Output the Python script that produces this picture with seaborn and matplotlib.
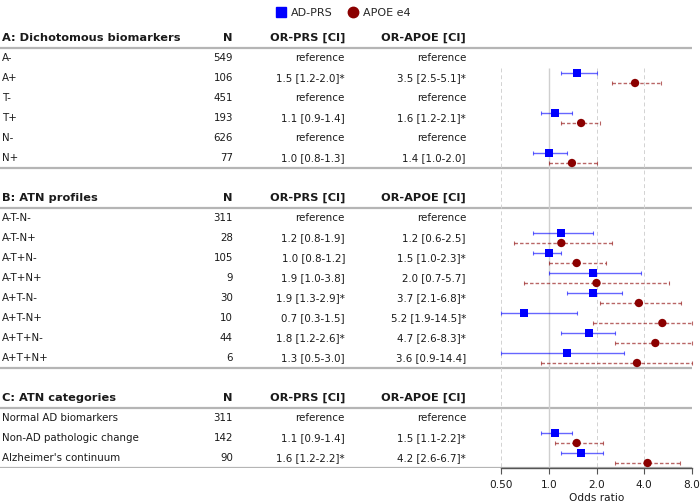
import numpy as np
import pandas as pd
import matplotlib
matplotlib.use('Agg')
import matplotlib.pyplot as plt
import seaborn as sns
from matplotlib.lines import Line2D

# --- data ---
section_titles = ['A: Dichotomous biomarkers', 'B: ATN profiles', 'C: ATN categories']
row_section = [0, 0, 0, 0, 0, 0,
               1, 1, 1, 1, 1, 1, 1, 1,
               2, 2, 2]
row_labels = ['A-', 'A+', 'T-', 'T+', 'N-', 'N+',
              'A-T-N-', 'A-T-N+', 'A-T+N-', 'A-T+N+', 'A+T-N-', 'A+T-N+', 'A+T+N-', 'A+T+N+',
              'Normal AD biomarkers', 'Non-AD pathologic change', "Alzheimer's continuum"]
row_n = [549, 106, 451, 193, 626, 77,
         311, 28, 105, 9, 30, 10, 44, 6,
         311, 142, 90]

# OR for the polygenic risk score (None = reference group)
prs_or = [None, 1.5, None, 1.1, None, 1.0,
          None, 1.2, 1.0, 1.9, 1.9, 0.7, 1.8, 1.3,
          None, 1.1, 1.6]
prs_lo = [None, 1.2, None, 0.9, None, 0.8,
          None, 0.8, 0.8, 1.0, 1.3, 0.3, 1.2, 0.5,
          None, 0.9, 1.2]
prs_hi = [None, 2.0, None, 1.4, None, 1.3,
          None, 1.9, 1.2, 3.8, 2.9, 1.5, 2.6, 3.0,
          None, 1.4, 2.2]
prs_sig = [False, True, False, False, False, False,
           False, False, False, False, True, False, True, False,
           False, False, True]

# OR for APOE e4
apoe_or = [None, 3.5, None, 1.6, None, 1.4,
           None, 1.2, 1.5, 2.0, 3.7, 5.2, 4.7, 3.6,
           None, 1.5, 4.2]
apoe_lo = [None, 2.5, None, 1.2, None, 1.0,
           None, 0.6, 1.0, 0.7, 2.1, 1.9, 2.6, 0.9,
           None, 1.1, 2.6]
apoe_hi = [None, 5.1, None, 2.1, None, 2.0,
           None, 2.5, 2.3, 5.7, 6.8, 14.5, 8.3, 14.4,
           None, 2.2, 6.7]
apoe_sig = [False, True, False, True, False, False,
            False, False, True, False, True, True, True, False,
            False, True, True]

x_ticks = [0.5, 1, 2, 4, 8]
x_ticklabels = ['0.50', '1.0', '2.0', '4.0', '8.0']

BLUE = '#0000ff'
RED = '#8b0000'
TXT = '#1a1a1a'
LINE = '#b5b5b5'
FS = 7.4
FS_HEAD = 8.2


def fmt(o, lo, hi, sig):
    if o is None:
        return 'reference'
    s = f'{o:.1f} [{lo:.1f}-{hi:.1f}]'
    return s + '*' if sig else s


# --- vertical layout in row units ---
row_y = []
header_y = []
lines_y = []
y = 1.9
for s in range(len(section_titles)):
    header_y.append(y)
    idx = [i for i in range(len(row_labels)) if row_section[i] == s]
    for k, i in enumerate(idx):
        row_y.append(y + 1 + k)
    lines_y.append(y + 0.5)
    lines_y.append(y + len(idx) + 0.5)
    y = y + len(idx) + 2
y_bottom = lines_y[-1]

sns.set_theme(style='white')
plt.rcParams['font.family'] = ['DejaVu Sans']

fig = plt.figure(figsize=(7, 5.03), dpi=100)
h = y_bottom * 20 / 503
b = 1 - h
ax_tab = fig.add_axes([0, b, 1, h])
ax = fig.add_axes([501 / 700, b, 191 / 700, h])
for a in (ax_tab, ax):
    a.set_ylim(y_bottom, 0)
    a.patch.set_alpha(0)
ax_tab.set_xlim(0, 1)
ax_tab.axis('off')

# table text
col_label = 2 / 700
col_n = 233 / 700
col_prs = 345 / 700
col_apoe = 466 / 700
for s, hy in enumerate(header_y):
    ax_tab.text(col_label, hy, section_titles[s], ha='left', va='center',
                fontsize=FS_HEAD, fontweight='bold', color=TXT)
    ax_tab.text(col_n, hy, 'N', ha='right', va='center', fontsize=FS_HEAD,
                fontweight='bold', color=TXT)
    ax_tab.text(col_prs, hy, 'OR-PRS [CI]', ha='right', va='center',
                fontsize=FS_HEAD, fontweight='bold', color=TXT)
    ax_tab.text(col_apoe, hy, 'OR-APOE [CI]', ha='right', va='center',
                fontsize=FS_HEAD, fontweight='bold', color=TXT)
for i, ry in enumerate(row_y):
    ax_tab.text(col_label, ry, row_labels[i], ha='left', va='center', fontsize=FS, color=TXT)
    ax_tab.text(col_n, ry, str(row_n[i]), ha='right', va='center', fontsize=FS, color=TXT)
    ax_tab.text(col_prs, ry, fmt(prs_or[i], prs_lo[i], prs_hi[i], prs_sig[i]),
                ha='right', va='center', fontsize=FS, color=TXT)
    ax_tab.text(col_apoe, ry, fmt(apoe_or[i], apoe_lo[i], apoe_hi[i], apoe_sig[i]),
                ha='right', va='center', fontsize=FS, color=TXT)
ax_tab.hlines(lines_y, 0, 692 / 700, color=LINE, lw=1.6, zorder=1)

# forest plot
recs = []
for i, ry in enumerate(row_y):
    if prs_or[i] is not None:
        recs.append(dict(series='AD-PRS', y=ry - 0.25, OR=prs_or[i], lo=prs_lo[i], hi=prs_hi[i]))
    if apoe_or[i] is not None:
        recs.append(dict(series='APOE e4', y=ry + 0.25, OR=apoe_or[i], lo=apoe_lo[i], hi=apoe_hi[i]))
df = pd.DataFrame(recs)

ax.set_xscale('log', base=2)
ax.set_xlim(0.5, 8)
grid_top = row_y[1] - 0.5
ax.vlines([0.5, 2, 4, 8], grid_top, y_bottom, colors='#d2d2d2', linestyles=(0, (4, 3)), lw=0.7, zorder=0)
ax.vlines([1], grid_top, y_bottom, colors='#cfcfcf', lw=1.0, zorder=0)

for name, col, ls in [('AD-PRS', BLUE, '-'), ('APOE e4', RED, (0, (2.5, 1.5)))]:
    d = df[df.series == name]
    lo = np.clip(d.lo.values, 0.5, 8)
    hi = np.clip(d.hi.values, 0.5, 8)
    eb = ax.errorbar(d.OR.values, d.y.values, xerr=[d.OR.values - lo, hi - d.OR.values],
                     fmt='none', ecolor=col, alpha=0.6, elinewidth=1, capsize=1.5,
                     capthick=0.8, zorder=2, clip_on=False)
    eb[2][0].set_linestyle(ls)

sns.scatterplot(data=df, x='OR', y='y', hue='series', style='series',
                markers={'AD-PRS': 's', 'APOE e4': 'o'},
                palette={'AD-PRS': BLUE, 'APOE e4': RED},
                s=36, linewidth=0, legend=False, ax=ax, zorder=3)

ax.set_xticks(x_ticks)
ax.set_xticklabels(x_ticklabels)
ax.minorticks_off()
ax.set_yticks([])
ax.set_ylabel('')
ax.set_xlabel('Odds ratio', fontsize=FS + 0.2, color=TXT, labelpad=2)
ax.tick_params(axis='x', labelsize=FS + 0.2, colors=TXT, length=4, width=0.8, color='#555555', pad=5, bottom=True)
sns.despine(ax=ax, left=True)
ax.spines['bottom'].set_color('#555555')
ax.spines['bottom'].set_linewidth(1)

handles = [Line2D([], [], marker='s', color=BLUE, ls='', markersize=7),
           Line2D([], [], marker='o', color=RED, ls='', markersize=7.5)]
fig.legend(handles, ['AD-PRS', 'APOE e4'], loc='center', bbox_to_anchor=(343 / 700, 1 - 13 / 503),
           ncol=2, frameon=False, fontsize=8, handletextpad=0.4, columnspacing=1.4,
           handlelength=1.0)

fig.savefig('out.png', dpi=100)
